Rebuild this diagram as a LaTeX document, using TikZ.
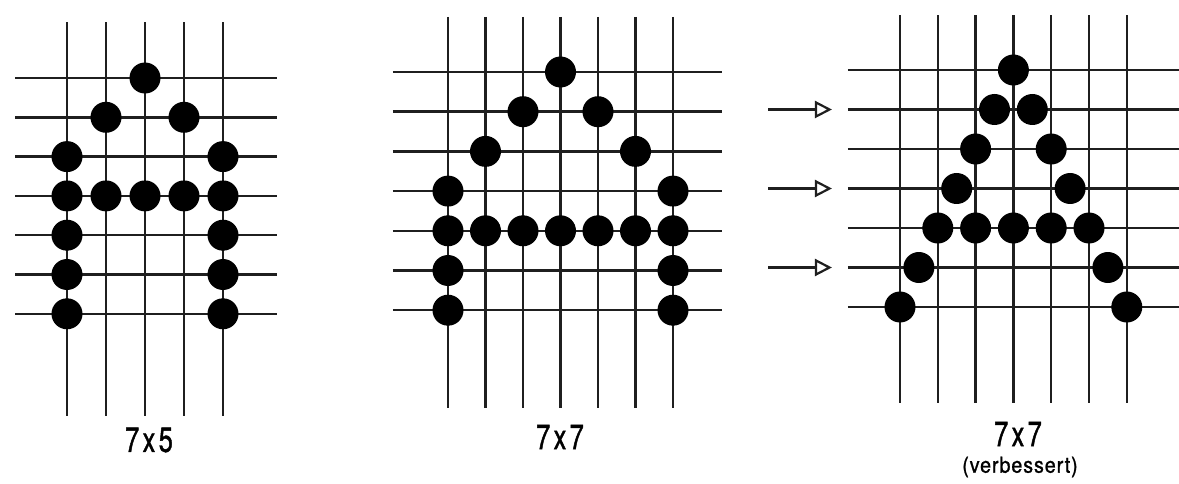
\documentclass[tikz,border=0pt]{standalone}
\usepackage{fontspec}
\newfontfamily\gridfont{TeX Gyre Heros}[FakeStretch=0.72,LetterSpace=10,FakeBold=1.3]
\newfontfamily\notefont{TeX Gyre Heros}[FakeStretch=0.9,LetterSpace=4,FakeBold=1]
\usetikzlibrary{arrows.meta}

\begin{document}
\begin{tikzpicture}[x=1pt,y=-1pt]
  \tikzset{
    wire/.style={line width=2.5pt,draw=black!88},
    dot/.style={circle,fill=black,minimum size=31pt,inner sep=0pt},
    sizelabel/.style={font=\gridfont\fontsize{35}{38}\selectfont},
    notelabel/.style={font=\notefont\fontsize{22}{24}\selectfont},
    pointer/.style={-{Triangle[open,length=17pt,width=17pt]},line width=2.2pt,draw=black!88}
  }
  \useasboundingbox (0,0) rectangle (1179,484);

  % 7x5
  \begin{scope}[shift={(67,78)},x=39pt,y=-39.3pt]
    \foreach \c in {0,...,4} \draw[wire] (\c,-1.42) -- (\c,8.6);
    \foreach \r in {0,...,6} \draw[wire] (-1.33,\r) -- (5.38,\r);
    \foreach \c/\r [count=\i] in {2/0,1/1,3/1,0/2,4/2,0/3,1/3,2/3,3/3,4/3,0/4,4/4,0/5,4/5,0/6,4/6}
      \node[dot] (a\i) at (\c,\r) {};
  \end{scope}
  \node[sizelabel] (a-lbl) at (149,440) {7x5};

  % 7x7
  \begin{scope}[shift={(448,72)},x=37.5pt,y=-39.7pt]
    \foreach \c in {0,...,6} \draw[wire] (\c,-1.39) -- (\c,8.46);
    \foreach \r in {0,...,6} \draw[wire] (-1.47,\r) -- (7.31,\r);
    \foreach \c/\r [count=\i] in {3/0,2/1,4/1,1/2,5/2,0/3,6/3,0/4,1/4,2/4,3/4,4/4,5/4,6/4,0/5,6/5,0/6,6/6}
      \node[dot] (b\i) at (\c,\r) {};
  \end{scope}
  \node[sizelabel] (b-lbl) at (560,437) {7x7};

  % 7x7 (verbessert)
  \begin{scope}[shift={(900,70)},x=37.8pt,y=-39.5pt]
    \foreach \c in {0,...,6} \draw[wire] (\c,-1.39) -- (\c,8.43);
    \foreach \r in {0,...,6} \draw[wire] (-1.38,\r) -- (7.4,\r);
    \foreach \c/\r [count=\i] in {3/0,2.5/1,3.5/1,2/2,4/2,1.5/3,4.5/3,1/4,2/4,3/4,4/4,5/4,0.5/5,5.5/5,0/6,6/6}
      \node[dot] (c\i) at (\c,\r) {};
    \foreach \r [count=\i] in {1,3,5} {
      \coordinate (c-in\i) at (-3.49,\r);
      \coordinate (c-tip\i) at (-1.8,\r);
      \draw[pointer] (c-in\i) -- (c-tip\i);
    }
  \end{scope}
  \node[sizelabel] (c-lbl) at (1018,434) {7x7};
  \node[notelabel] (c-note) at (1020,467) {(verbessert)};
\end{tikzpicture}
\end{document}
